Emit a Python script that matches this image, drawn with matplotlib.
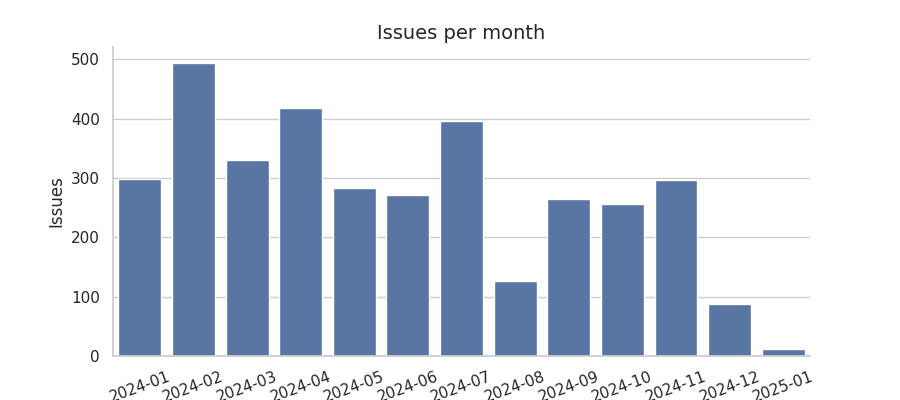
import matplotlib
matplotlib.use('Agg')
import matplotlib.pyplot as plt
import seaborn as sns

months = ['2024-01', '2024-02', '2024-03', '2024-04', '2024-05', '2024-06', '2024-07',
          '2024-08', '2024-09', '2024-10', '2024-11', '2024-12', '2025-01']
issues = [298, 494, 330, 418, 283, 271, 396, 126, 264, 256, 297, 87, 12]

sns.set_theme(style='whitegrid')

fig, ax = plt.subplots(figsize=(9, 4), dpi=100)
fig.subplots_adjust(left=0.1256, right=0.9, bottom=0.11, top=0.8825)

sns.barplot(x=months, y=issues, color='#4c72b0', ax=ax)
sns.despine(ax=ax)

ax.set_ylim(0, 521)
ax.set_title('Issues per month', fontsize=14)
ax.set_ylabel('Issues')
ax.set_xlabel('')
ax.tick_params(axis='x', rotation=20)
ax.grid(axis='x', visible=False)

fig.savefig('out.png', dpi=100)
